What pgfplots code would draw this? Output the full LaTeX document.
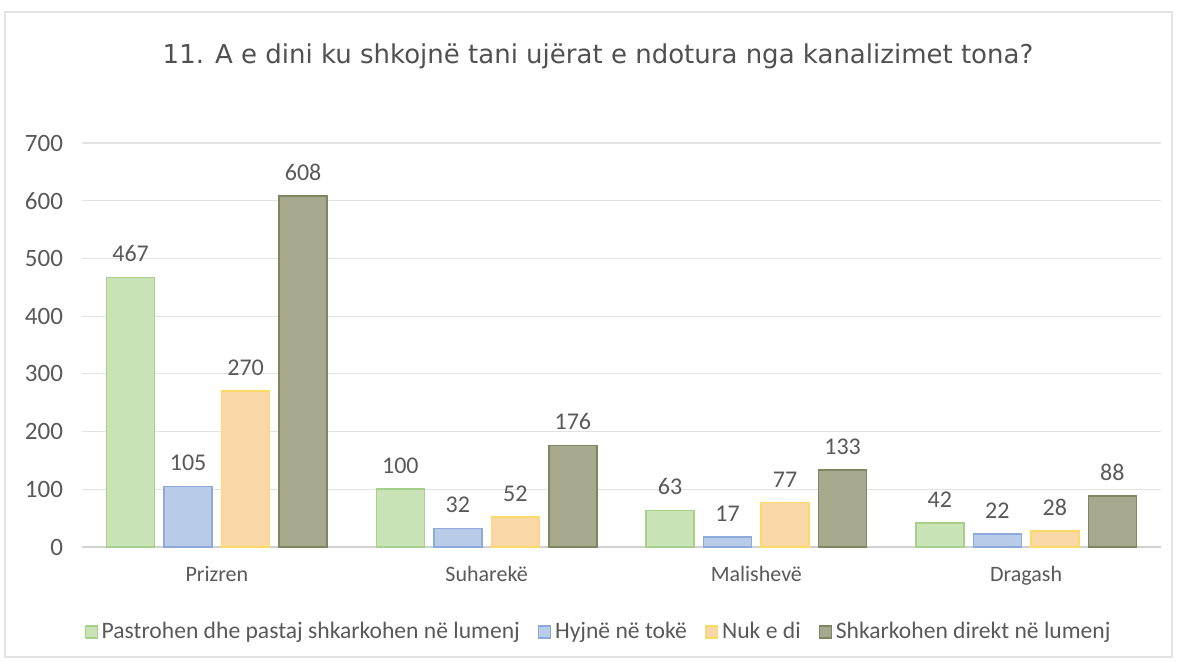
\documentclass[border=0pt]{standalone}
\usepackage{pgfplots}
\pgfplotsset{compat=1.18}
\usepackage{fontspec}
\setmainfont{Carlito}
\newfontfamily\titlefont{DejaVu Sans}
\definecolor{txt}{HTML}{595959}
\definecolor{grid}{HTML}{E3E3E3}
\definecolor{gfill}{HTML}{C9E2B6}\definecolor{gline}{HTML}{A8D08D}
\definecolor{bfill}{HTML}{B8CBE8}\definecolor{bline}{HTML}{8EAADB}
\definecolor{yfill}{HTML}{F9D7A6}\definecolor{yline}{HTML}{FFD966}
\definecolor{ofill}{HTML}{A6A98D}\definecolor{oline}{HTML}{7D8660}
\begin{document}
\begin{tikzpicture}
\useasboundingbox (0,0) rectangle (589pt,331pt);
\draw[draw=grid, line width=0.6pt] (2.5pt,2.5pt) rectangle (586pt,325pt);
\node[font=\titlefont\fontsize{13}{15}\selectfont, text=txt!90!black] at (299pt,303pt) {11. A e dini ku shkojnë tani ujërat e ndotura nga kanalizimet tona?};
\begin{axis}[
  at={(41pt,57.5pt)}, anchor=south west,
  scale only axis, width=539.5pt, height=202pt,
  ybar=4.75pt, bar width=24pt,
  xmin=-0.5, xmax=3.5, ymin=0, ymax=700,
  xtick={0,1,2,3}, xticklabels={Prizren,Suharekë,Malishevë,Dragash},
  ytick={0,100,...,700},
  axis x line*=bottom, axis y line*=left,
  y axis line style={draw=none},
  x axis line style={draw=black!18, line width=0.8pt},
  ymajorgrids, grid style={draw=grid, line width=0.6pt},
  major tick length=0pt,
  /pgf/number format/assume math mode=true,
  tick label style={font=\fontsize{11}{13}\selectfont, text=txt},
  yticklabel style={xshift=-6pt, font=\fontsize{12.5}{14}\selectfont},
  xticklabel style={yshift=-6pt},
  every node near coord/.append style={font=\fontsize{12}{14}\selectfont, text=txt, yshift=4pt},
  nodes near coords,
  legend style={at={(258.75pt,-42.5pt)}, anchor=center, draw=none, fill=none,
    font=\fontsize{11.8}{14}\selectfont, text=txt, legend columns=4,
    /tikz/every even column/.append style={column sep=7pt}},
  legend image code/.code={\draw[#1, line width=0.6pt] (0pt,-3pt) rectangle (6pt,3pt);},
  clip=false,
]
\addplot[fill=gfill, draw=gline, line width=0.8pt] coordinates {(0,467) (1,100) (2,63) (3,42)};
\addplot[fill=bfill, draw=bline, line width=0.8pt] coordinates {(0,105) (1,32) (2,17) (3,22)};
\addplot[fill=yfill, draw=yline, line width=0.8pt] coordinates {(0,270) (1,52) (2,77) (3,28)};
\addplot[fill=ofill, draw=oline, line width=0.8pt] coordinates {(0,608) (1,176) (2,133) (3,88)};
\legend{Pastrohen dhe pastaj shkarkohen në lumenj, Hyjnë në tokë, Nuk e di, Shkarkohen direkt në lumenj}
\end{axis}
\end{tikzpicture}
\end{document}
